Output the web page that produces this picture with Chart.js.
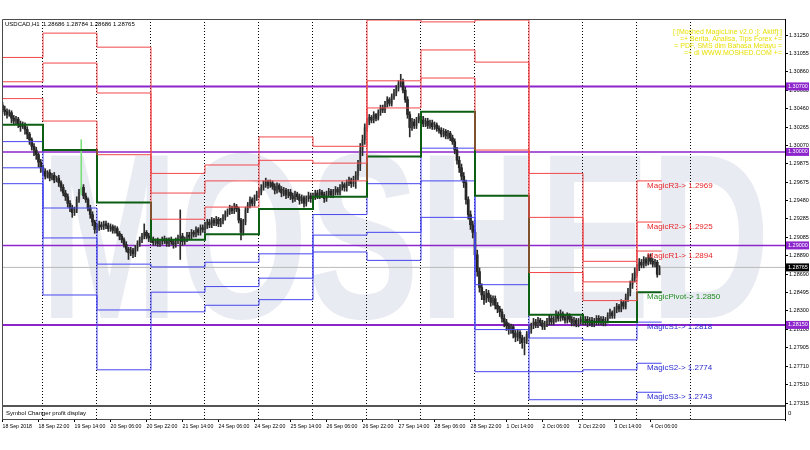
<!DOCTYPE html>
<html>
<head>
<meta charset="utf-8">
<title>USDCAD H1 - Moshed MagicLine</title>
<script src="https://cdn.jsdelivr.net/npm/chart.js@4.4.1/dist/chart.umd.min.js"></script>
<style>
  html, body { margin: 0; padding: 0; background: #fff; }
</style>
</head>
<body>
<canvas id="chart" width="810" height="450"></canvas>
<script>
// ---- chart values ----
const symbolTitle = 'USDCAD,H1  1.28686 1.28784 1.28686 1.28765';
const watermarkText = 'MOSHED';
const infoLines = [
  '[:[Moshed MagicLine v2.0 :]: Aktif]:]',
  '=+ Berita, Analisa, Tips Forex +=',
  '= PDF, SMS dlm Bahasa Melayu =',
  '=+ di WWW.MOSHED.COM +='
];
const subWindowName = 'Symbol Changer profit display';

// bottom time axis: bar index of each label and its text
const timeLabelBars = [0, 16, 32, 48, 64, 80, 96, 112, 128, 144, 160, 176, 192, 208, 224, 240, 256, 272, 288];
const timeLabels = ['18 Sep 2018', '18 Sep 22:00', '19 Sep 14:00', '20 Sep 06:00', '20 Sep 22:00', '21 Sep 14:00',
  '24 Sep 06:00', '24 Sep 22:00', '25 Sep 14:00', '26 Sep 06:00', '26 Sep 22:00', '27 Sep 14:00',
  '28 Sep 06:00', '28 Sep 22:00', '1 Oct 14:00', '2 Oct 06:00', '2 Oct 22:00', '3 Oct 14:00', '4 Oct 06:00'];
// midnight bars (period separators)
const separatorBars = [18, 42, 66, 90, 114, 138, 162, 186, 210, 234, 258, 282, 306];

// right price axis
const priceTicks = [1.31250, 1.31055, 1.30860, 1.30660, 1.30460, 1.30265, 1.30070, 1.29875, 1.29675, 1.29480,
  1.29285, 1.29085, 1.28890, 1.28690, 1.28495, 1.28300, 1.28100, 1.27905, 1.27710, 1.27510, 1.27315];
const roundLevels = [1.3070, 1.3000, 1.2900, 1.2815];
const bidPrice = 1.28765;

// hourly candles, 18 Sep 06:00 .. 4 Oct 10:00
const opens = [
  1.3050,1.3045,1.3043,1.3040,1.3042,1.3036,1.3033,1.3035,1.3030,1.3027,1.3029,1.3024,1.3019,1.3013,1.3006,1.3002,1.2997,1.2989,
  1.2983,1.2979,1.2974,1.2978,1.2972,1.2975,1.2970,1.2972,1.2967,1.2962,1.2956,1.2952,1.2945,1.2940,1.2935,1.2938,1.2949,1.2957,1.2962,1.2953,1.2949,1.2940,1.2933,1.2925,
  1.2917,1.2919,1.2922,1.2920,1.2923,1.2921,1.2918,1.2920,1.2916,1.2918,1.2913,1.2910,1.2906,1.2901,1.2896,1.2892,1.2895,1.2891,1.2897,1.2902,1.2906,1.2910,1.2914,1.2910,
  1.2908,1.2906,1.2903,1.2905,1.2902,1.2904,1.2907,1.2905,1.2902,1.2906,1.2904,1.2901,1.2905,1.2908,1.2910,1.2904,1.2907,1.2911,1.2909,1.2914,1.2912,1.2917,1.2914,1.2919,
  1.2917,1.2921,1.2925,1.2922,1.2927,1.2924,1.2928,1.2923,1.2926,1.2930,1.2934,1.2936,1.2940,1.2937,1.2942,1.2939,1.2927,1.2914,1.2925,1.2938,1.2943,1.2949,1.2945,1.2951,
  1.2954,1.2957,1.2962,1.2965,1.2968,1.2964,1.2967,1.2963,1.2959,1.2964,1.2960,1.2956,1.2959,1.2954,1.2957,1.2953,1.2950,1.2955,1.2952,1.2948,1.2951,1.2945,1.2950,1.2953,
  1.2950,1.2952,1.2956,1.2953,1.2957,1.2954,1.2950,1.2955,1.2958,1.2954,1.2957,1.2960,1.2957,1.2962,1.2965,1.2962,1.2967,1.2970,1.2966,1.2971,1.2975,1.2986,1.3002,1.3013,
  1.3026,1.3032,1.3037,1.3034,1.3040,1.3036,1.3042,1.3047,1.3045,1.3051,1.3056,1.3052,1.3059,1.3063,1.3068,1.3073,1.3075,1.3066,1.3056,1.3040,1.3026,1.3032,1.3028,1.3034,
  1.3038,1.3034,1.3030,1.3033,1.3028,1.3031,1.3027,1.3029,1.3025,1.3023,1.3019,1.3022,1.3017,1.3020,1.3015,1.3011,1.3002,1.2991,1.2983,1.2974,1.2967,1.2949,1.2933,1.2922,
  1.2914,1.2890,1.2872,1.2855,1.2847,1.2842,1.2849,1.2844,1.2839,1.2843,1.2836,1.2832,1.2829,1.2822,1.2818,1.2814,1.2810,1.2813,1.2806,1.2802,1.2807,1.2801,1.2796,1.2799,
  1.2805,1.2810,1.2814,1.2818,1.2815,1.2820,1.2817,1.2813,1.2816,1.2819,1.2822,1.2818,1.2821,1.2826,1.2822,1.2827,1.2823,1.2820,1.2825,1.2821,1.2817,1.2820,1.2816,1.2819,
  1.2821,1.2818,1.2821,1.2817,1.2820,1.2816,1.2819,1.2822,1.2818,1.2821,1.2817,1.2820,1.2825,1.2828,1.2825,1.2831,1.2835,1.2832,1.2839,1.2835,1.2844,1.2850,1.2858,1.2865,
  1.2871,1.2876,1.2882,1.2879,1.2885,1.2881,1.2887,1.2883,1.2880,1.2882,1.28686
];
const highs = [
  1.3053,1.3049,1.3046,1.3045,1.3044,1.3039,1.3038,1.3037,1.3033,1.3032,1.3031,1.3027,1.3021,1.3015,1.3009,1.3005,1.2999,1.2992,
  1.2986,1.2982,1.2980,1.2981,1.2977,1.2978,1.2974,1.2975,1.2969,1.2965,1.2959,1.2955,1.2948,1.2943,1.2941,1.2952,1.2960,1.3013,1.2965,1.2956,1.2951,1.2943,1.2936,1.2927,
  1.2923,1.2926,1.2925,1.2926,1.2926,1.2924,1.2923,1.2922,1.2921,1.2920,1.2915,1.2912,1.2908,1.2904,1.2898,1.2898,1.2897,1.2900,1.2905,1.2909,1.2913,1.2923,1.2916,1.2913,
  1.2911,1.2909,1.2907,1.2908,1.2906,1.2909,1.2910,1.2908,1.2908,1.2909,1.2906,1.2908,1.2911,1.2938,1.2913,1.2909,1.2914,1.2914,1.2917,1.2916,1.2920,1.2919,1.2922,1.2922,
  1.2925,1.2928,1.2928,1.2930,1.2929,1.2931,1.2930,1.2929,1.2933,1.2937,1.2939,1.2943,1.2942,1.2945,1.2944,1.2941,1.2929,1.2928,1.2941,1.2946,1.2952,1.2951,1.2954,1.2958,
  1.2961,1.2965,1.2969,1.2972,1.2970,1.2970,1.2969,1.2966,1.2967,1.2966,1.2963,1.2962,1.2961,1.2960,1.2960,1.2956,1.2958,1.2957,1.2955,1.2954,1.2953,1.2953,1.2957,1.2956,
  1.2956,1.2959,1.2959,1.2960,1.2959,1.2957,1.2958,1.2961,1.2960,1.2960,1.2963,1.2962,1.2965,1.2968,1.2967,1.2970,1.2973,1.2972,1.2974,1.2979,1.2991,1.3009,1.3018,1.3030,
  1.3036,1.3040,1.3039,1.3043,1.3041,1.3045,1.3050,1.3050,1.3054,1.3059,1.3058,1.3062,1.3067,1.3071,1.3076,1.3083,1.3078,1.3069,1.3059,1.3043,1.3036,1.3035,1.3037,1.3041,
  1.3041,1.3038,1.3036,1.3036,1.3034,1.3034,1.3032,1.3031,1.3028,1.3026,1.3025,1.3024,1.3023,1.3022,1.3018,1.3014,1.3005,1.2995,1.2987,1.2978,1.2970,1.2952,1.2937,1.2926,
  1.2917,1.2895,1.2876,1.2859,1.2851,1.2853,1.2852,1.2847,1.2846,1.2846,1.2839,1.2835,1.2832,1.2826,1.2821,1.2817,1.2816,1.2815,1.2809,1.2810,1.2809,1.2804,1.2802,1.2808,
  1.2814,1.2817,1.2822,1.2821,1.2823,1.2822,1.2820,1.2819,1.2822,1.2826,1.2825,1.2824,1.2830,1.2829,1.2831,1.2829,1.2826,1.2828,1.2827,1.2824,1.2823,1.2822,1.2822,1.2824,
  1.2824,1.2824,1.2824,1.2823,1.2823,1.2822,1.2825,1.2825,1.2824,1.2824,1.2823,1.2828,1.2832,1.2830,1.2834,1.2838,1.2837,1.2842,1.2841,1.2848,1.2854,1.2862,1.2870,1.2876,
  1.2880,1.2886,1.2885,1.2888,1.2887,1.2890,1.2891,1.2886,1.2885,1.2884,1.28784
];
const lows = [
  1.3041,1.3039,1.3036,1.3038,1.3031,1.3029,1.3030,1.3026,1.3022,1.3025,1.3019,1.3014,1.3008,1.3002,1.2996,1.2992,1.2984,1.2978,
  1.2975,1.2971,1.2972,1.2969,1.2970,1.2967,1.2968,1.2963,1.2958,1.2953,1.2948,1.2941,1.2936,1.2930,1.2932,1.2935,1.2946,1.2954,1.2950,1.2946,1.2937,1.2929,1.2921,1.2913,
  1.2914,1.2916,1.2917,1.2917,1.2918,1.2915,1.2915,1.2913,1.2913,1.2910,1.2906,1.2903,1.2898,1.2893,1.2885,1.2889,1.2887,1.2888,1.2894,1.2899,1.2903,1.2907,1.2907,1.2904,
  1.2903,1.2900,1.2900,1.2899,1.2899,1.2901,1.2902,1.2899,1.2899,1.2901,1.2897,1.2898,1.2902,1.2885,1.2900,1.2901,1.2904,1.2906,1.2906,1.2909,1.2909,1.2911,1.2911,1.2914,
  1.2913,1.2918,1.2919,1.2919,1.2921,1.2921,1.2920,1.2920,1.2923,1.2927,1.2931,1.2933,1.2934,1.2934,1.2936,1.2924,1.2906,1.2911,1.2922,1.2935,1.2940,1.2942,1.2942,1.2948,
  1.2951,1.2954,1.2959,1.2962,1.2961,1.2962,1.2960,1.2955,1.2956,1.2957,1.2952,1.2953,1.2950,1.2951,1.2949,1.2946,1.2947,1.2949,1.2944,1.2945,1.2941,1.2942,1.2947,1.2946,
  1.2947,1.2949,1.2950,1.2950,1.2951,1.2946,1.2947,1.2952,1.2951,1.2951,1.2954,1.2954,1.2954,1.2959,1.2958,1.2958,1.2964,1.2962,1.2963,1.2961,1.2970,1.2980,1.2996,1.3008,
  1.3022,1.3029,1.3031,1.3031,1.3033,1.3034,1.3039,1.3042,1.3042,1.3048,1.3049,1.3049,1.3056,1.3060,1.3065,1.3070,1.3063,1.3053,1.3036,1.3016,1.3023,1.3025,1.3025,1.3031,
  1.3031,1.3027,1.3027,1.3025,1.3025,1.3024,1.3024,1.3022,1.3020,1.3016,1.3016,1.3014,1.3014,1.3012,1.3008,1.2998,1.2987,1.2978,1.2970,1.2962,1.2944,1.2928,1.2917,1.2908,
  1.2885,1.2867,1.2850,1.2842,1.2837,1.2839,1.2840,1.2835,1.2836,1.2832,1.2828,1.2824,1.2818,1.2813,1.2809,1.2805,1.2806,1.2801,1.2797,1.2798,1.2795,1.2790,1.2783,1.2795,
  1.2801,1.2806,1.2811,1.2812,1.2812,1.2814,1.2810,1.2810,1.2813,1.2815,1.2815,1.2815,1.2818,1.2819,1.2819,1.2820,1.2817,1.2817,1.2818,1.2814,1.2814,1.2813,1.2813,1.2816,
  1.2815,1.2815,1.2813,1.2814,1.2813,1.2813,1.2815,1.2815,1.2815,1.2814,1.2814,1.2817,1.2822,1.2822,1.2822,1.2828,1.2829,1.2829,1.2832,1.2832,1.2840,1.2846,1.2854,1.2861,
  1.2867,1.2873,1.2876,1.2876,1.2878,1.2879,1.2880,1.2877,1.2877,1.2866,1.28686
];
const closes = [
  1.3045,1.3043,1.3040,1.3042,1.3036,1.3033,1.3035,1.3030,1.3027,1.3029,1.3024,1.3019,1.3013,1.3006,1.3002,1.2997,1.2989,1.2983,
  1.2979,1.2974,1.2978,1.2972,1.2975,1.2970,1.2972,1.2967,1.2962,1.2956,1.2952,1.2945,1.2940,1.2935,1.2938,1.2949,1.2957,1.2962,1.2953,1.2949,1.2940,1.2933,1.2925,1.2917,
  1.2919,1.2922,1.2920,1.2923,1.2921,1.2918,1.2920,1.2916,1.2918,1.2913,1.2910,1.2906,1.2901,1.2896,1.2892,1.2895,1.2891,1.2897,1.2902,1.2906,1.2910,1.2914,1.2910,1.2908,
  1.2906,1.2903,1.2905,1.2902,1.2904,1.2907,1.2905,1.2902,1.2906,1.2904,1.2901,1.2905,1.2908,1.2910,1.2904,1.2907,1.2911,1.2909,1.2914,1.2912,1.2917,1.2914,1.2919,1.2917,
  1.2921,1.2925,1.2922,1.2927,1.2924,1.2928,1.2923,1.2926,1.2930,1.2934,1.2936,1.2940,1.2937,1.2942,1.2939,1.2927,1.2914,1.2925,1.2938,1.2943,1.2949,1.2945,1.2951,1.2954,
  1.2957,1.2962,1.2965,1.2968,1.2964,1.2967,1.2963,1.2959,1.2964,1.2960,1.2956,1.2959,1.2954,1.2957,1.2953,1.2950,1.2955,1.2952,1.2948,1.2951,1.2945,1.2950,1.2953,1.2950,
  1.2952,1.2956,1.2953,1.2957,1.2954,1.2950,1.2955,1.2958,1.2954,1.2957,1.2960,1.2957,1.2962,1.2965,1.2962,1.2967,1.2970,1.2966,1.2971,1.2975,1.2986,1.3002,1.3013,1.3026,
  1.3032,1.3037,1.3034,1.3040,1.3036,1.3042,1.3047,1.3045,1.3051,1.3056,1.3052,1.3059,1.3063,1.3068,1.3073,1.3075,1.3066,1.3056,1.3040,1.3026,1.3032,1.3028,1.3034,1.3038,
  1.3034,1.3030,1.3033,1.3028,1.3031,1.3027,1.3029,1.3025,1.3023,1.3019,1.3022,1.3017,1.3020,1.3015,1.3011,1.3002,1.2991,1.2983,1.2974,1.2967,1.2949,1.2933,1.2922,1.2914,
  1.2890,1.2872,1.2855,1.2847,1.2842,1.2849,1.2844,1.2839,1.2843,1.2836,1.2832,1.2829,1.2822,1.2818,1.2814,1.2810,1.2813,1.2806,1.2802,1.2807,1.2801,1.2796,1.2799,1.2805,
  1.2810,1.2814,1.2818,1.2815,1.2820,1.2817,1.2813,1.2816,1.2819,1.2822,1.2818,1.2821,1.2826,1.2822,1.2827,1.2823,1.2820,1.2825,1.2821,1.2817,1.2820,1.2816,1.2819,1.2821,
  1.2818,1.2821,1.2817,1.2820,1.2816,1.2819,1.2822,1.2818,1.2821,1.2817,1.2820,1.2825,1.2828,1.2825,1.2831,1.2835,1.2832,1.2839,1.2835,1.2844,1.2850,1.2858,1.2865,1.2871,
  1.2876,1.2882,1.2879,1.2885,1.2881,1.2887,1.2883,1.2880,1.2882,1.2869,1.28765
];
const greenBar = 35; // the lime spike on 19 Sep

// MagicLine daily levels (one value per trading day, starting bar in dayStarts)
const dayStarts = [0, 18, 42, 66, 90, 114, 138, 162, 186, 210, 234, 258, 282];
const lineEnd = 293;
const r3 = [1.3101, 1.3127, 1.3112, 1.2977, 1.2986, 1.3016, 1.3006, 1.3141, 1.3139, 1.3141, 1.2977, 1.2883, 1.2969];
const r2 = [1.3075, 1.3095, 1.3063, 1.2956, 1.2969, 1.2991, 1.2988, 1.3076, 1.3109, 1.3096, 1.2930, 1.2861, 1.2925];
const r1 = [1.3057, 1.3033, 1.2997, 1.2928, 1.2941, 1.2969, 1.2969, 1.3047, 1.3079, 1.3002, 1.2871, 1.2841, 1.2894];
const pivot = [1.3029, 1.3002, 1.2946, 1.2906, 1.2912, 1.2939, 1.2952, 1.2995, 1.3043, 1.2953, 1.2826, 1.2818, 1.2850];
const s1 = [1.3011, 1.2940, 1.2880, 1.2877, 1.2882, 1.2891, 1.2933, 1.2966, 1.3004, 1.2858, 1.2801, 1.2799, 1.2818];
const s2 = [1.2983, 1.2908, 1.2831, 1.2850, 1.2856, 1.2865, 1.2911, 1.2914, 1.2969, 1.2810, 1.2765, 1.2767, 1.2774];
const s3 = [1.2966, 1.2847, 1.2767, 1.2829, 1.2836, 1.2842, 1.2893, 1.2884, 1.2930, 1.2765, 1.2735, 1.2735, 1.2743];

// ---- styling ----
const RED = '#f2474a', GREEN = '#0b5e12', BLUE = '#4646f0', PURPLE = '#8d25cc';
const FONT = '"Liberation Sans", Arial, sans-serif';
Chart.defaults.font.family = FONT;

const xMin = -0.22, xMax = 347.78;
const yMin = 1.271333, yMax = 1.314211;

function stepPoints(levels) {
  const pts = dayStarts.map((d, k) => ({x: d, y: levels[k]}));
  pts.push({x: lineEnd, y: levels[levels.length - 1]});
  return pts;
}
function flatLine(v) {
  return [{x: xMin - 5, y: v}, {x: xMax + 5, y: v}];
}
function stepSet(levels, color, width) {
  return {type: 'line', data: stepPoints(levels), borderColor: color, borderWidth: width,
    stepped: 'before', pointRadius: 0, fill: false, order: 1};
}

const wickData = highs.map((h, i) => ({x: i, y: [lows[i], h]}));
const bodyData = opens.map((o, i) => ({x: i, y: [o, closes[i]]}));

const datasets = [];
roundLevels.forEach((v, k) => {
  datasets.push({type: 'line', data: flatLine(v), borderColor: PURPLE,
    borderWidth: (k === 0 || k === 3) ? 2 : 1.5, pointRadius: 0, order: 6});
});
datasets.push({type: 'line', data: flatLine(bidPrice), borderColor: '#b9b9b9', borderWidth: 1, pointRadius: 0, order: 5});
datasets.push({type: 'bar', data: bodyData, grouped: false, barThickness: 2, minBarLength: 1,
  backgroundColor: ctx => closes[ctx.dataIndex] >= opens[ctx.dataIndex] ? '#b4b4b4' : '#1a1a1a', order: 4});
datasets.push({type: 'bar', data: wickData, grouped: false, barThickness: 1,
  backgroundColor: ctx => ctx.dataIndex === greenBar ? '#7be07b' : '#2a2a2a', order: 3});
[r3, r2, r1].forEach(l => datasets.push(stepSet(l, RED, 1)));
datasets.push(stepSet(pivot, GREEN, 2));
[s1, s2, s3].forEach(l => datasets.push(stepSet(l, BLUE, 1)));

const decor = {
  id: 'decor',
  beforeDraw(chart) {
    const ctx = chart.ctx;
    ctx.save();
    ctx.font = 'bold 236px ' + FONT;
    const w = ctx.measureText(watermarkText).width;
    ctx.translate(40, 318);
    ctx.scale(730 / w, 1);
    ctx.fillStyle = '#e9ebf2';
    ctx.textBaseline = 'alphabetic';
    ctx.fillText(watermarkText, 0, 0);
    ctx.restore();
  },
  afterDraw(chart) {
    const {ctx, chartArea: a} = chart;
    const ys = chart.scales.y, xs = chart.scales.x;
    ctx.save();
    // frame and sub window
    ctx.strokeStyle = '#4a4a4a';
    ctx.lineWidth = 1;
    ctx.beginPath();
    ctx.moveTo(a.left + 0.5, a.bottom); ctx.lineTo(a.left + 0.5, a.top + 0.5); ctx.lineTo(a.right, a.top + 0.5);
    ctx.moveTo(a.left, a.bottom - 0.5); ctx.lineTo(a.right, a.bottom - 0.5);
    ctx.stroke();
    ctx.fillStyle = '#555';
    ctx.fillRect(a.left, a.bottom - 15, a.right - a.left, 2);
    ctx.fillStyle = '#000';
    ctx.font = '6px ' + FONT;
    ctx.textBaseline = 'middle';
    ctx.textAlign = 'left';
    ctx.fillText(subWindowName, a.left + 4, a.bottom - 7);
    ctx.fillText('0', a.right + 3, a.bottom - 7);
    ctx.fillText(symbolTitle, a.left + 3, a.top + 5);

    // info text top right
    ctx.fillStyle = '#e8df00';
    ctx.font = '7px ' + FONT;
    ctx.textAlign = 'right';
    infoLines.forEach((t, i) => ctx.fillText(t, a.right - 3, a.top + 13 + i * 7));

    // price boxes on the axis
    ctx.textAlign = 'left';
    ctx.font = '5.5px ' + FONT;
    roundLevels.forEach(v => {
      const y = ys.getPixelForValue(v);
      ctx.fillStyle = PURPLE;
      ctx.fillRect(a.right + 1, y - 4, 23, 8);
      ctx.fillStyle = '#fff';
      ctx.fillText(v.toFixed(5), a.right + 3, y);
    });
    const by = ys.getPixelForValue(bidPrice);
    ctx.fillStyle = '#000';
    ctx.fillRect(a.right + 1, by - 4, 23, 8);
    ctx.fillStyle = '#fff';
    ctx.fillText(bidPrice.toFixed(5), a.right + 3, by);

    // MagicLine labels for the last day
    const last = dayStarts.length - 1;
    const lx = xs.getPixelForValue(286.5);
    const tags = [['MagicR3', r3, RED], ['MagicR2', r2, RED], ['MagicR1', r1, RED],
      ['MagicPivot', pivot, '#1f8c1f'], ['MagicS1', s1, '#2a2ad0'], ['MagicS2', s2, '#2a2ad0'], ['MagicS3', s3, '#2a2ad0']];
    ctx.font = '8px ' + FONT;
    ctx.textBaseline = 'top';
    tags.forEach(([name, arr, col]) => {
      ctx.fillStyle = col === RED ? '#e8262a' : col;
      ctx.fillText(name + '-> ' + arr[last].toFixed(4), lx, ys.getPixelForValue(arr[last]) + 1);
    });
    ctx.restore();
  }
};

new Chart(document.getElementById('chart'), {
  type: 'bar',
  data: {datasets},
  plugins: [decor],
  options: {
    responsive: false,
    animation: false,
    devicePixelRatio: 1,
    events: [],
    layout: {padding: {left: 2, top: 19, right: 0, bottom: 0}},
    plugins: {legend: {display: false}, tooltip: {enabled: false}},
    scales: {
      x: {
        type: 'linear', min: xMin, max: xMax, offset: false,
        afterBuildTicks: s => { s.ticks = timeLabelBars.map(v => ({value: v})); },
        afterFit: s => { s.height = 30; },
        ticks: {autoSkip: false, maxRotation: 0, minRotation: 0, align: 'start', padding: 1,
          color: '#000', font: {size: 5.2}, callback: (v, i) => timeLabels[i]},
        grid: {drawOnChartArea: false, offset: false, tickLength: 2, tickColor: '#000'},
        border: {display: false}
      },
      days: {
        type: 'linear', axis: 'x', position: 'bottom', min: xMin, max: xMax, offset: false,
        afterBuildTicks: s => { s.ticks = separatorBars.map(v => ({value: v})); },
        afterFit: s => { s.height = 0; },
        ticks: {display: false},
        grid: {drawOnChartArea: true, drawTicks: false, offset: false, color: '#000', lineWidth: 1},
        border: {display: false, dash: [1, 2]}
      },
      y: {
        position: 'right', min: yMin, max: yMax, beginAtZero: false,
        afterBuildTicks: s => { s.ticks = priceTicks.map(v => ({value: v})); },
        afterFit: s => { s.width = 25; },
        ticks: {autoSkip: false, padding: 1, color: '#000', font: {size: 5.5}, callback: v => v.toFixed(5)},
        grid: {drawOnChartArea: false, tickLength: 3, tickColor: '#000'},
        border: {display: true, color: '#000', width: 1}
      }
    }
  }
});
</script>
</body>
</html>
